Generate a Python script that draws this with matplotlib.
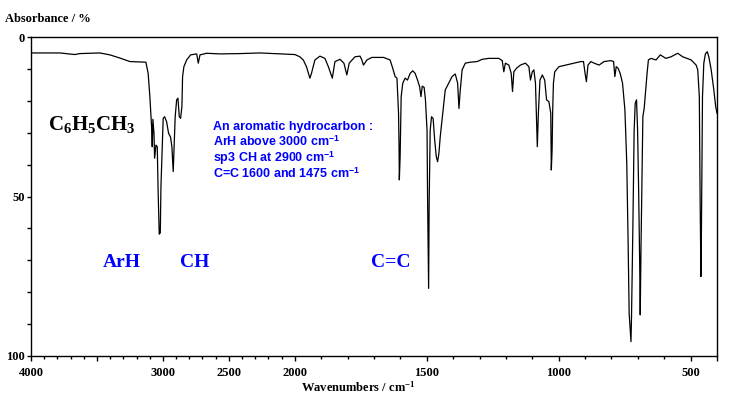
import numpy as np
import matplotlib.pyplot as plt

plt.rcParams['mathtext.fontset'] = 'custom'
plt.rcParams['mathtext.rm'] = 'Liberation Serif:bold'
plt.rcParams['mathtext.bf'] = 'Liberation Serif:bold'
plt.rcParams['mathtext.it'] = 'Liberation Serif:bold:italic'
plt.rcParams['mathtext.sf'] = 'Liberation Sans:bold'

# toluene IR spectrum
wavenumber = [4000, 3781, 3668, 3630, 3478, 3402, 3326, 3250, 3129, 3112,
              3099, 3086, 3081, 3076, 3068, 3063, 3053, 3043, 3036, 3028,
              3020, 3015, 3005, 2998, 2987, 2972, 2957, 2942, 2932, 2922,
              2914, 2907, 2896, 2886, 2876, 2866, 2856, 2851, 2841, 2820,
              2790, 2744, 2732, 2719, 2668, 2568, 2416, 2264, 2112, 2000,
              1981, 1968, 1956, 1943, 1937, 1924, 1905, 1886, 1873, 1858,
              1848, 1829, 1814, 1803, 1794, 1772, 1753, 1746, 1740, 1727,
              1708, 1664, 1639, 1629, 1620, 1613, 1607, 1605, 1604, 1601,
              1597, 1591, 1582, 1573, 1563, 1553, 1544, 1535, 1527, 1522,
              1517, 1510, 1505, 1499, 1497, 1493, 1491, 1487, 1482, 1476,
              1470, 1464, 1459, 1454, 1449, 1438, 1430, 1417, 1404, 1392,
              1383, 1378, 1373, 1366, 1354, 1335, 1309, 1290, 1265, 1227,
              1214, 1208, 1202, 1189, 1180, 1175, 1170, 1160, 1145, 1126,
              1113, 1107, 1100, 1094, 1088, 1081, 1077, 1071, 1062, 1053,
              1046, 1037, 1030, 1028, 1025, 1023, 1020, 1015, 999, 973,
              942, 916, 906, 900, 895, 889, 878, 866, 847, 828,
              802, 792, 787, 782, 775, 767, 758, 749, 742, 737,
              733, 726, 724, 719, 714, 710, 705, 701, 697, 693,
              691, 688, 684, 681, 676, 665, 660, 650, 631, 615,
              594, 574, 549, 530, 498, 479, 473, 467, 464, 461,
              459, 455, 450, 444, 437, 431, 422, 412, 405, 400]
absorbance = [5.0, 5.0, 5.5, 5.2, 5.0, 5.6, 6.6, 7.7, 7.9, 11.4,
              18.7, 28.1, 34.4, 25.8, 30.1, 38.0, 33.9, 34.4, 49.0, 61.8,
              61.4, 46.9, 34.4, 25.5, 25.0, 26.6, 30.2, 31.4, 34.4, 42.2,
              33.3, 25.0, 19.7, 19.2, 25.0, 25.5, 21.8, 12.4, 9.3, 7.2,
              5.6, 5.3, 8.2, 5.6, 5.1, 5.3, 5.2, 5.0, 5.3, 5.5,
              6.2, 7.2, 9.3, 12.9, 11.4, 7.2, 6.0, 6.7, 9.3, 12.9,
              7.7, 7.0, 8.2, 11.9, 8.2, 6.2, 6.0, 7.2, 8.8, 7.2,
              6.4, 6.4, 7.2, 9.8, 12.4, 12.9, 23.9, 34.9, 44.8, 37.5,
              18.7, 14.5, 12.9, 13.5, 11.4, 10.6, 11.4, 13.5, 15.6, 18.7,
              15.4, 15.8, 19.7, 29.2, 50.1, 78.8, 52.0, 29.2, 25.0, 25.5,
              32.3, 37.5, 39.1, 36.5, 31.3, 22.9, 16.6, 14.5, 12.4, 11.6,
              14.5, 22.4, 16.6, 10.3, 8.2, 7.9, 7.7, 7.0, 6.7, 6.7,
              7.4, 10.9, 8.2, 8.8, 11.4, 17.1, 10.9, 9.8, 8.8, 8.2,
              9.3, 13.5, 10.9, 10.3, 14.5, 34.4, 23.9, 13.5, 11.9, 13.5,
              19.7, 20.3, 23.9, 41.7, 35.4, 23.9, 14.5, 10.9, 9.3, 8.8,
              8.2, 7.7, 7.7, 11.4, 14.0, 8.8, 7.7, 8.2, 8.8, 7.7,
              7.4, 7.7, 12.4, 9.3, 9.8, 11.4, 14.5, 22.9, 39.6, 63.6,
              86.6, 95.5, 87.7, 60.5, 29.2, 20.8, 19.7, 29.2, 48.0, 70.9,
              87.1, 65.7, 41.7, 25.0, 22.4, 11.4, 7.2, 6.7, 7.2, 5.6,
              6.7, 6.2, 5.1, 6.2, 7.2, 8.8, 10.3, 18.7, 50.1, 75.1,
              60.5, 18.7, 8.2, 5.3, 4.6, 6.2, 10.3, 16.6, 21.8, 23.9]

x_major = [4000, 3500, 3000, 2500, 2000, 1500, 1000, 500, 400]
x_labels = ['4000', '', '3000', '2500', '2000', '1500', '1000', '500', '']
y_major = [0, 50, 100]

W, H = 735, 400


def px(x, y):
    return x / W, 1 - y / H


# wavenumber axis is compressed by 2 above 2000 cm-1
def fwd(w):
    w = np.asarray(w, dtype=float)
    return np.where(w > 2000, 2000 + (w - 2000) / 2, w)


def inv(u):
    u = np.asarray(u, dtype=float)
    return np.where(u > 2000, 2000 + 2 * (u - 2000), u)


fig = plt.figure(figsize=(W / 100, H / 100), dpi=100)
ax = fig.add_axes([31 / W, 1 - 356 / H, (717 - 31) / W, (356 - 37) / H])
ax.set_xscale('function', functions=(fwd, inv))
ax.plot(wavenumber, absorbance, color='black', lw=0.9)
ax.set_xlim(4000, 400)
ax.set_ylim(100, 0)

serif = 'Liberation Serif'
ax.set_xticks(x_major)
ax.set_xticklabels(x_labels, family=serif, weight='bold', fontsize=9)
ax.set_xticks(np.arange(400, 4001, 100), minor=True)
ax.set_yticks(y_major)
ax.set_yticklabels([str(v) for v in y_major], family=serif, weight='bold', fontsize=9)
ax.set_yticks(np.arange(0, 101, 10), minor=True)
ax.tick_params(axis='x', which='major', direction='out', length=3.6, width=1, pad=4)
ax.tick_params(axis='x', which='minor', direction='out', length=2.2, width=1)
ax.tick_params(axis='y', which='both', direction='out', length=3.2, width=1, pad=1)
for s in ax.spines.values():
    s.set_linewidth(1)

fig.text(*px(5, 22), 'Absorbance / %', family=serif, weight='bold',
         fontsize=9, va='baseline')
fig.text(*px(301, 392), 'Wavenumbers / cm$^{-1}$', family=serif, weight='bold',
         fontsize=9, va='baseline')

fig.text(*px(48, 130), 'C$_6$H$_5$CH$_3$', family=serif, weight='bold',
         fontsize=15, va='baseline')
blue = '#0000ff'
for label, x in [('ArH', 103), ('CH', 180), ('C=C', 371)]:
    fig.text(*px(x, 267), label, family=serif, weight='bold', fontsize=14,
             color=blue, va='baseline')

notes = ['An aromatic hydrocarbon :',
         r'ArH above 3000 cm$^{\mathsf{-1}}$',
         r'sp3 CH at 2900 cm$^{\mathsf{-1}}$',
         r'C=C 1600 and 1475 cm$^{\mathsf{-1}}$']
for i, line in enumerate(notes):
    fig.text(*px(213, 130 + 16 * i), line, family='Liberation Sans',
             weight='bold', fontsize=9, color=blue, va='baseline')

fig.savefig('out.png', dpi=100)
